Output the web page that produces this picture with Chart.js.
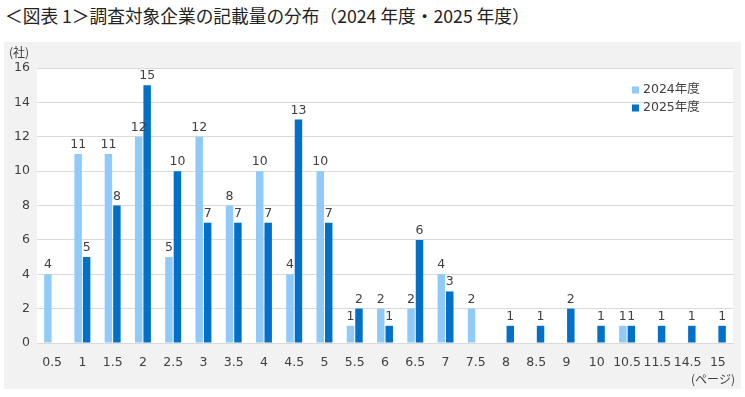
<!DOCTYPE html>
<html>
<head>
<meta charset="utf-8">
<script src="https://cdn.jsdelivr.net/npm/chart.js@4.4.1/dist/chart.umd.min.js"></script>
<style>
  body { margin: 0; background: #fff; font-family: "DejaVu Sans", "Noto Sans CJK JP", sans-serif; }
  #title { position: absolute; left: 5px; top: 2px; font-size: 17.7px; color: #222; font-family: "Noto Sans CJK JP", sans-serif; white-space: nowrap; }
  #panel { position: absolute; left: 4px; top: 42px; width: 737px; height: 347px; background: #f2f2f2; }
  #wrap { position: relative; width: 737px; height: 347px; }
</style>
</head>
<body>
<div id="title">＜図表 1＞調査対象企業の記載量の分布（2024 年度・2025 年度）</div>
<div id="panel"><div id="wrap"><canvas id="chart"></canvas></div></div>
<script>
// ページ数の区分
var pages = ['0.5', '1', '1.5', '2', '2.5', '3', '3.5', '4', '4.5', '5', '5.5', '6',
    '6.5', '7', '7.5', '8', '8.5', '9', '10', '10.5', '11.5', '14.5', '15'];
var fy2024 = [4, 11, 11, 12, 5, 12, 8, 10, 4, 10, 1, 2, 2, 4, 2, 0, 0, 0, 0, 1, 0, 0, 0];
var fy2025 = [0, 5, 8, 15, 10, 7, 7, 7, 13, 7, 2, 1, 6, 3, 0, 1, 1, 2, 1, 1, 1, 1, 1];
var yTicks = [0, 2, 4, 6, 8, 10, 12, 14, 16];

var textColor = '#404040';
var numFamily = 'DejaVu Sans';
var tickFont = { family: numFamily, size: 12.5 };

var extras = {
    id: 'extras',
    beforeDraw: function (chart) {
        var a = chart.chartArea, ctx = chart.ctx;
        ctx.save();
        ctx.fillStyle = '#ffffff';
        ctx.fillRect(a.left, a.top, a.right - a.left, a.bottom - a.top);
        ctx.restore();
    },
    afterDatasetsDraw: function (chart) {
        var ctx = chart.ctx;
        ctx.save();
        ctx.font = '12.5px ' + numFamily;
        ctx.fillStyle = textColor;
        ctx.textAlign = 'center';
        ctx.textBaseline = 'bottom';
        chart.data.datasets.forEach(function (ds, i) {
            chart.getDatasetMeta(i).data.forEach(function (bar, j) {
                if (!ds.data[j]) return;
                ctx.fillText(ds.data[j], bar.x, bar.y - 3);
            });
        });
        // units
        ctx.font = '12px "Noto Sans CJK JP", sans-serif';
        ctx.textAlign = 'left';
        ctx.textBaseline = 'middle';
        ctx.fillText('(社)', 5, 10);
        ctx.textAlign = 'right';
        ctx.fillText('(ページ)', 731, 337);
        // legend
        chart.data.datasets.forEach(function (ds, i) {
            var y = 48 + i * 18;
            ctx.fillStyle = ds.backgroundColor;
            ctx.fillRect(628, y - 3.5, 7, 7);
            ctx.fillStyle = textColor;
            ctx.textAlign = 'left';
            ctx.font = '12.5px ' + numFamily + ', "Noto Sans CJK JP"';
            ctx.fillText(ds.label, 639, y);
        });
        ctx.restore();
    }
};

new Chart(document.getElementById('chart'), {
    type: 'bar',
    data: {
        labels: pages,
        datasets: [
            { label: '2024年度', data: fy2024, backgroundColor: '#8fcafa' },
            { label: '2025年度', data: fy2025, backgroundColor: '#0070c8' }
        ]
    },
    options: {
        responsive: true,
        maintainAspectRatio: false,
        animation: false,
        categoryPercentage: 0.56,
        barPercentage: 0.88,
        layout: { padding: { top: 26, right: 8 } },
        plugins: { legend: { display: false }, tooltip: { enabled: false } },
        scales: {
            x: {
                grid: { display: false, drawTicks: false },
                border: { color: '#d9d9d9' },
                ticks: { color: textColor, font: tickFont, padding: 12, maxRotation: 0, autoSkip: false },
                afterFit: function (s) { s.height = 46; }
            },
            y: {
                min: 0,
                max: 16,
                afterBuildTicks: function (s) { s.ticks = yTicks.map(function (v) { return { value: v }; }); },
                grid: { color: '#d9d9d9', drawTicks: false },
                border: { display: false },
                ticks: { color: textColor, font: tickFont, padding: 7 },
                afterFit: function (s) { s.width = 33; }
            }
        }
    },
    plugins: [extras]
});
</script>
</body>
</html>
